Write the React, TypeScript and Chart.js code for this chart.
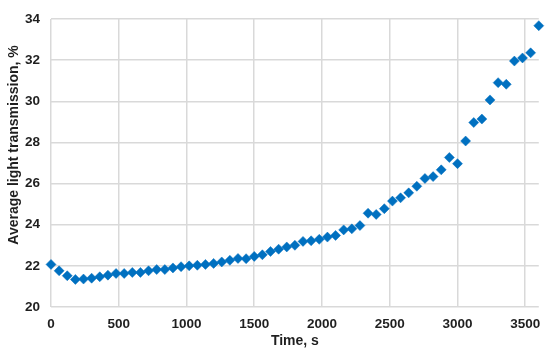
import React, { useEffect, useRef } from "react";
import { Chart, registerables } from "chart.js";

Chart.register(...registerables);

const timeSeconds: number[] = [
  0, 60, 120, 180, 240, 300, 360, 420, 480, 540, 600, 660, 720, 780, 840, 900,
  960, 1020, 1080, 1140, 1200, 1260, 1320, 1380, 1440, 1500, 1560, 1620, 1680,
  1740, 1800, 1860, 1920, 1980, 2040, 2100, 2160, 2220, 2280, 2340, 2400, 2460,
  2520, 2580, 2640, 2700, 2760, 2820, 2880, 2940, 3000, 3060, 3120, 3180, 3240,
  3300, 3360, 3420, 3480, 3540, 3600,
];

const transmission: number[] = [
  22.07, 21.76, 21.52, 21.34, 21.36, 21.40, 21.47, 21.55, 21.63, 21.63, 21.68,
  21.68, 21.76, 21.82, 21.82, 21.90, 21.96, 22.00, 22.03, 22.07, 22.12, 22.19,
  22.27, 22.36, 22.35, 22.46, 22.54, 22.70, 22.81, 22.92, 23.00, 23.19, 23.22,
  23.29, 23.40, 23.48, 23.75, 23.80, 23.96, 24.56, 24.50, 24.78, 25.15, 25.31,
  25.55, 25.87, 26.25, 26.34, 26.67, 27.27, 26.97, 28.07, 28.97, 29.14, 30.07,
  30.91, 30.83, 31.96, 32.11, 32.36, 33.68,
];

const xTicks: number[] = [0, 500, 1000, 1500, 2000, 2500, 3000, 3500];
const yTicks: number[] = [20, 22, 24, 26, 28, 30, 32, 34];

const xTitle = "Time, s";
const yTitle = "Average light transmission, %";

const FONT_FAMILY = "'Liberation Sans Narrow', 'Arial Narrow', 'Liberation Sans', Arial, sans-serif";
const TEXT_COLOR = "#1f1f1f";

const yTitlePlugin = {
  id: "yTitlePlugin",
  afterDraw(chart: any) {
    const ctx = chart.ctx;
    ctx.save();
    ctx.translate(14, 145);
    ctx.rotate(-Math.PI / 2);
    ctx.font = `bold 14px ${FONT_FAMILY}`;
    ctx.fillStyle = TEXT_COLOR;
    ctx.textAlign = "center";
    ctx.textBaseline = "middle";
    ctx.fillText(yTitle, 0, 0);
    ctx.restore();
  },
};

export default function App() {
  const canvasRef = useRef<HTMLCanvasElement | null>(null);

  useEffect(() => {
    if (!canvasRef.current) return;
    const points = timeSeconds.map((t, i) => ({ x: t, y: transmission[i] }));
    const chart = new Chart(canvasRef.current, {
      type: "scatter",
      data: {
        datasets: [
          {
            data: points,
            pointStyle: "rectRot",
            pointRadius: 5,
            pointHoverRadius: 5,
            backgroundColor: "#0070C0",
            borderColor: "#0070C0",
            borderWidth: 0.5,
            clip: false as any,
          },
        ],
      },
      options: {
        animation: false,
        responsive: true,
        maintainAspectRatio: false,
        layout: { padding: { top: 14, right: 9, left: 0, bottom: 0 } },
        plugins: {
          legend: { display: false },
          tooltip: { enabled: false },
        },
        scales: {
          x: {
            type: "linear",
            min: 0,
            max: 3600,
            afterBuildTicks: (scale: any) => {
              scale.ticks = xTicks.map((v) => ({ value: v }));
            },
            afterFit: (scale: any) => {
              scale.height = 47;
            },
            grid: { color: "#d9d9d9", lineWidth: 1.5, drawTicks: false },
            border: { display: false },
            ticks: {
              padding: 9.5,
              color: TEXT_COLOR,
              font: { family: FONT_FAMILY, size: 13.5, weight: "bold" },
              maxRotation: 0,
              callback: (v: any) => String(v),
            },
            title: {
              display: true,
              text: xTitle,
              color: TEXT_COLOR,
              font: { family: FONT_FAMILY, size: 14, weight: "bold", lineHeight: 1.2 },
              padding: { top: 0, bottom: 4.5 },
            },
          },
          y: {
            type: "linear",
            min: 20,
            max: 34,
            afterBuildTicks: (scale: any) => {
              scale.ticks = yTicks.map((v) => ({ value: v }));
            },
            afterFit: (scale: any) => {
              scale.width = 51;
            },
            grid: { color: "#d9d9d9", lineWidth: 1.5, drawTicks: false },
            border: { display: false },
            ticks: {
              padding: 11,
              color: TEXT_COLOR,
              font: { family: FONT_FAMILY, size: 13.5, weight: "bold" },
              callback: (v: any) => String(v),
            },
          },
        },
      },
      plugins: [yTitlePlugin],
    });
    return () => chart.destroy();
  }, []);

  return (
    <div style={{ position: "fixed", left: 0, top: 0, width: 550, height: 354, background: "#fff" }}>
      <canvas ref={canvasRef} />
    </div>
  );
}
